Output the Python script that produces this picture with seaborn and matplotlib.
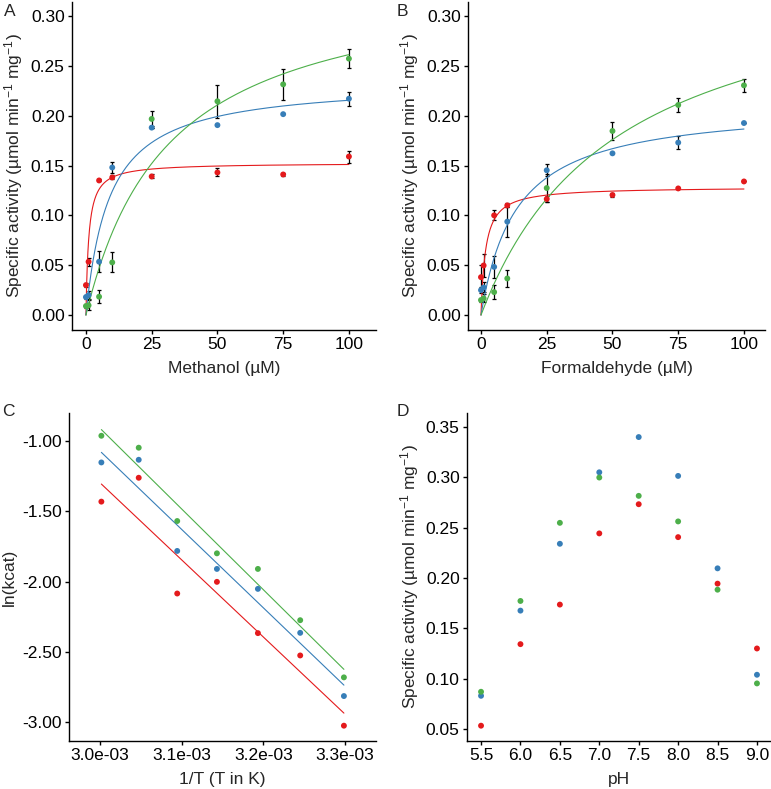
import numpy as np
import pandas as pd
import matplotlib
matplotlib.use("Agg")
import matplotlib.pyplot as plt
import seaborn as sns
from matplotlib.ticker import FuncFormatter, FixedLocator

sns.set_theme(style="ticks")
plt.rcParams["font.family"] = ["Liberation Sans", "DejaVu Sans"]
plt.rcParams["mathtext.fontset"] = "custom"
plt.rcParams["mathtext.rm"] = "Liberation Sans"
plt.rcParams["mathtext.default"] = "regular"
plt.rcParams["axes.unicode_minus"] = False

FS = 12.5

# ---------------- data ----------------
series = ["red", "blue", "green"]
palette = {"red": "#E41A1C", "blue": "#377EB8", "green": "#4DAF4A"}

conc = [0, 1, 5, 10, 25, 50, 75, 100]

# Panel A: methanol
A_red = [0.030, 0.0535, 0.135, 0.138, 0.139, 0.143, 0.141, 0.159]
A_red_err = [0.002, 0.004, 0.001, 0.002, 0.002, 0.004, 0.0015, 0.006]
A_blue = [0.018, 0.020, 0.0535, 0.148, 0.188, 0.1905, 0.2015, 0.217]
A_blue_err = [0.002, 0.004, 0.0105, 0.006, 0.0, 0.0, 0.0, 0.007]
A_green = [0.009, 0.0097, 0.0184, 0.0528, 0.1967, 0.2144, 0.2314, 0.2572]
A_green_err = [0.002, 0.005, 0.0067, 0.010, 0.0075, 0.0165, 0.0155, 0.0095]
A_vmax = {"red": 0.1526, "blue": 0.2346, "green": 0.3435}
A_km = {"red": 1.05, "blue": 8.9, "green": 31.5}

# Panel B: formaldehyde
B_red = [0.038, 0.0497, 0.100, 0.110, 0.1164, 0.1204, 0.127, 0.134]
B_red_err = [0.012, 0.012, 0.005, 0.002, 0.003, 0.002, 0.0, 0.0]
B_blue = [0.025, 0.0277, 0.0483, 0.0937, 0.1452, 0.1622, 0.173, 0.1926]
B_blue_err = [0.003, 0.005, 0.011, 0.015, 0.006, 0.0, 0.0063, 0.0]
B_green = [0.015, 0.0167, 0.023, 0.0367, 0.1274, 0.1846, 0.2107, 0.2304]
B_green_err = [0.002, 0.004, 0.0067, 0.0083, 0.014, 0.0094, 0.0067, 0.0065]
B_vmax = {"red": 0.1286, "blue": 0.2116, "green": 0.3586}
B_km = {"red": 1.72, "blue": 13.4, "green": 51.9}

# Panel C: Arrhenius
temps_C = [60, 55, 50, 45, 40, 35, 30]
C_red = [-1.431, -1.261, -2.085, -2.002, -2.367, -2.526, -3.026]
C_blue = [-1.152, -1.133, -1.782, -1.910, -2.052, -2.365, -2.815]
C_green = [-0.962, -1.047, -1.569, -1.799, -1.910, -2.275, -2.682]

# Panel D: pH
pH = [5.5, 6.0, 6.5, 7.0, 7.5, 8.0, 8.5, 9.0]
D_red = [0.0533, 0.1343, 0.1736, 0.2443, 0.2733, 0.2406, 0.1944, 0.130]
D_blue = [0.083, 0.1676, 0.234, 0.305, 0.340, 0.3014, 0.2096, 0.1039]
D_green = [0.087, 0.1772, 0.2548, 0.2998, 0.2816, 0.2562, 0.1884, 0.0953]

ylab_sa = "Specific activity (µmol min$^{-1}$ mg$^{-1}$)"

# ---------------- figure ----------------
W, H = 771, 789
fig = plt.figure(figsize=(W / 100, H / 100), dpi=100)
fig.patch.set_facecolor("white")

PT_S = 18


def px_axes(left, right, top, bottom):
    return fig.add_axes([left / W, 1 - bottom / H, (right - left) / W, (bottom - top) / H])


def style(ax):
    for s in ["top", "right"]:
        ax.spines[s].set_visible(False)
    for s in ["left", "bottom"]:
        ax.spines[s].set_linewidth(1.0)
        ax.spines[s].set_color("black")
    ax.tick_params(axis="both", colors="black", length=2.75, width=1.0,
                   labelsize=FS, labelcolor="black")
    ax.tick_params(axis="x", pad=2.5)
    ax.tick_params(axis="y", pad=2.5)
    ax.set_facecolor("white")


def kinetics_panel(ax, vals, errs, vmax, km, xlabel):
    rows = []
    for s in series:
        for c, v in zip(conc, vals[s]):
            rows.append({"conc": c, "act": v, "series": s})
    df = pd.DataFrame(rows)
    grid = np.linspace(0, 100, 801)
    crows = []
    for s in series:
        for g in grid:
            crows.append({"conc": g, "act": vmax[s] * g / (km[s] + g), "series": s})
    cdf = pd.DataFrame(crows)
    for s in series:
        ax.errorbar(conc, vals[s], yerr=errs[s], fmt="none", ecolor="black",
                    elinewidth=0.9, capsize=1.1, capthick=0.9, zorder=1)
    sns.lineplot(data=cdf, x="conc", y="act", hue="series", palette=palette,
                 linewidth=0.8, legend=False, ax=ax, zorder=2)
    sns.scatterplot(data=df, x="conc", y="act", hue="series", palette=palette,
                    s=PT_S, linewidth=0, legend=False, ax=ax, zorder=3)
    ax.set_ylim(-0.015, 0.314)
    ax.yaxis.set_major_locator(FixedLocator([0, 0.05, 0.10, 0.15, 0.20, 0.25, 0.30]))
    ax.yaxis.set_major_formatter(FuncFormatter(lambda v, p: f"{v:.2f}"))
    ax.xaxis.set_major_locator(FixedLocator([0, 25, 50, 75, 100]))
    ax.set_xlabel(xlabel, fontsize=FS)
    ax.set_ylabel(ylab_sa, fontsize=FS)
    style(ax)


# Panel A
axA = px_axes(72, 376, 2, 330)
kinetics_panel(axA, {"red": A_red, "blue": A_blue, "green": A_green},
               {"red": A_red_err, "blue": A_blue_err, "green": A_green_err},
               A_vmax, A_km, "Methanol (µM)")
axA.set_xlim(-5.3, 110.3)
axA.yaxis.set_label_coords(-0.155, 0.5)
axA.xaxis.set_label_coords(0.5, -0.093)

# Panel B
axB = px_axes(468, 765, 2, 330)
kinetics_panel(axB, {"red": B_red, "blue": B_blue, "green": B_green},
               {"red": B_red_err, "blue": B_blue_err, "green": B_green_err},
               B_vmax, B_km, "Formaldehyde (µM)")
axB.set_xlim(-4.94, 108.0)
axB.yaxis.set_label_coords(-0.158, 0.5)
axB.xaxis.set_label_coords(0.5, -0.093)

# Panel C
axC = px_axes(69, 376, 413, 741)
crow = []
cvals = {"red": C_red, "blue": C_blue, "green": C_green}
for s in series:
    for t, v in zip(temps_C, cvals[s]):
        crow.append({"invT": 1.0 / (t + 273.15), "lnk": v, "series": s})
cdfC = pd.DataFrame(crow)
for s in series:
    sub = cdfC[cdfC["series"] == s]
    sns.regplot(data=sub, x="invT", y="lnk", ci=None, scatter=False, truncate=True,
                color=palette[s], line_kws={"linewidth": 0.8}, ax=axC)
sns.scatterplot(data=cdfC, x="invT", y="lnk", hue="series", palette=palette,
                s=PT_S, linewidth=0, legend=False, ax=axC, zorder=3)
axC.set_xlim(2.962e-3, 3.338e-3)
axC.set_ylim(-3.135, -0.80)
axC.xaxis.set_major_locator(FixedLocator([3.0e-3, 3.1e-3, 3.2e-3, 3.3e-3]))
axC.xaxis.set_major_formatter(FuncFormatter(lambda v, p: f"{v:.1e}"))
axC.yaxis.set_major_locator(FixedLocator([-3.0, -2.5, -2.0, -1.5, -1.0]))
axC.yaxis.set_major_formatter(FuncFormatter(lambda v, p: f"{v:.2f}"))
axC.set_xlabel("1/T (T in K)", fontsize=FS)
axC.set_ylabel("ln(kcat)", fontsize=FS)
style(axC)
axC.yaxis.set_label_coords(-0.17, 0.5)
axC.xaxis.set_label_coords(0.5, -0.093)

# Panel D
axD = px_axes(467, 771, 413, 741)
drow = []
dvals = {"red": D_red, "blue": D_blue, "green": D_green}
for s in series:
    for p_, v in zip(pH, dvals[s]):
        drow.append({"pH": p_, "act": v, "series": s})
ddf = pd.DataFrame(drow)
sns.scatterplot(data=ddf, x="pH", y="act", hue="series", palette=palette,
                s=PT_S, linewidth=0, legend=False, ax=axD)
axD.set_xlim(5.322, 9.178)
axD.set_ylim(0.0381, 0.3639)
axD.xaxis.set_major_locator(FixedLocator(pH))
axD.xaxis.set_major_formatter(FuncFormatter(lambda v, p: f"{v:.1f}"))
axD.yaxis.set_major_locator(FixedLocator([0.05, 0.10, 0.15, 0.20, 0.25, 0.30, 0.35]))
axD.yaxis.set_major_formatter(FuncFormatter(lambda v, p: f"{v:.2f}"))
axD.set_xlabel("pH", fontsize=FS)
axD.set_ylabel(ylab_sa, fontsize=FS)
style(axD)
axD.yaxis.set_label_coords(-0.151, 0.5)
axD.xaxis.set_label_coords(0.5, -0.093)

# panel letters
for lab, x, y in [("A", 4, 11), ("B", 397, 11), ("C", 2, 411), ("D", 397, 411)]:
    fig.text(x / W, 1 - y / H, lab, fontsize=FS, ha="left", va="center")

fig.savefig("out.png", dpi=100, facecolor="white")
